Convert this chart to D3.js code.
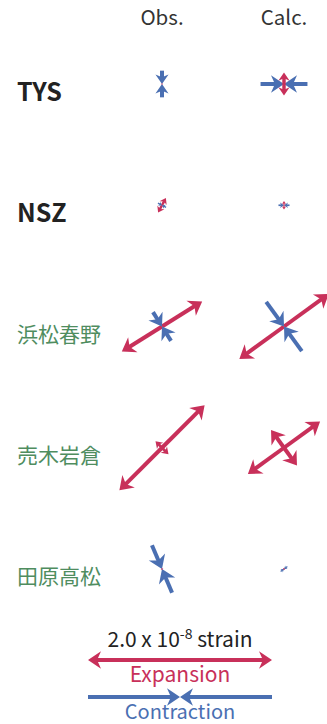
<!DOCTYPE html>
<html><head><meta charset="utf-8">
<script src="https://cdn.jsdelivr.net/npm/d3@7"></script>
<style>
html,body{margin:0;padding:0;background:#fff;}
svg{display:block;}
text{font-family:"Noto Sans CJK JP","Noto Sans",sans-serif;}
</style></head>
<body>
<svg id="chart" width="327" height="724"></svg>
<script>
// Stations (rows) and columns
const stations = ["TYS", "NSZ", "浜松春野", "売木岩倉", "田原高松"];
const stationKind = ["gnss", "gnss", "jp", "jp", "jp"];
const columns = ["Obs.", "Calc."];
// Principal strains in units of 1e-8 (positive = expansion), azimuth of e1 in degrees clockwise from north
const obsE1 = [0.02, 0.18, 1.03, 1.31, 0.03];
const obsE2 = [-0.29, -0.10, -0.37, 0.20, -0.56];
const obsAz = [90, 28, 58, 45, 67];
const calcE1 = [0.25, 0.09, 1.20, 0.97, 0.03];
const calcE2 = [-0.51, -0.12, -0.66, 0.48, -0.09];
const calcAz = [0, 0, 54, 54, 144];
// Legend
const legendStrain = 2.0;

const RED = "#c8305a", BLUE = "#4a6fb2", GREEN = "#4f8d5f";
const svg = d3.select("#chart");

const x = d3.scalePoint().domain(columns).range([162, 284]);
const y = d3.scalePoint().domain(stations).range([84, 569]);
// full arrow length per strain
const len = d3.scaleLinear().domain([0, 2.0]).range([0, 184]);

// headers
svg.selectAll("text.col").data(columns).join("text")
  .attr("class", "col")
  .attr("x", d => x(d)).attr("y", 25)
  .attr("text-anchor", "middle")
  .attr("font-size", 20.5).attr("fill", "#333")
  .text(d => d);

// row labels
svg.selectAll("text.row").data(stations).join("text")
  .attr("class", "row")
  .attr("x", 17)
  .attr("y", (d, i) => y(d) + (stationKind[i] === "gnss" ? 17 : 15))
  .attr("font-size", (d, i) => stationKind[i] === "gnss" ? 25 : 21)
  .attr("font-weight", (d, i) => stationKind[i] === "gnss" ? 700 : 400)
  .attr("fill", (d, i) => stationKind[i] === "gnss" ? "#222" : GREEN)
  .text(d => d);

// arrowhead path: tip at (0,0), pointing along +x
function headPath(h) {
  const w = h * 0.68, n = h * 0.3;
  return `M0,0 L${-h},${-w} L${-h + n},0 L${-h},${w} Z`;
}

// draw one principal axis (two arrows) at cx,cy
function drawAxis(g, cx, cy, e, az) {
  const half = len(Math.abs(e)) / 2;
  const rad = az * Math.PI / 180;
  const ux = Math.sin(rad), uy = -Math.cos(rad);
  const color = e >= 0 ? RED : BLUE;
  const h = Math.min(13, half * 0.72);
  const sw = Math.max(1.2, Math.min(4, half * 0.3));
  [1, -1].forEach(s => {
    const ex = cx + s * ux * half, ey = cy + s * uy * half;
    const ang = Math.atan2(s * uy, s * ux) * 180 / Math.PI;
    if (e >= 0) {
      g.append("line")
        .attr("x1", cx).attr("y1", cy)
        .attr("x2", cx + s * ux * (half - h * 0.6)).attr("y2", cy + s * uy * (half - h * 0.6))
        .attr("stroke", color).attr("stroke-width", sw);
      g.append("path").attr("d", headPath(h))
        .attr("transform", `translate(${ex},${ey}) rotate(${ang})`)
        .attr("fill", color);
    } else {
      g.append("line")
        .attr("x1", ex).attr("y1", ey)
        .attr("x2", cx + s * ux * h * 0.6).attr("y2", cy + s * uy * h * 0.6)
        .attr("stroke", color).attr("stroke-width", sw);
      g.append("path").attr("d", headPath(h))
        .attr("transform", `translate(${cx},${cy}) rotate(${ang + 180})`)
        .attr("fill", color);
    }
  });
}

const g = svg.append("g");
stations.forEach((st, i) => {
  const cy = y(st);
  const oPairs = [[obsE1[i], obsAz[i]], [obsE2[i], obsAz[i] + 90]]
    .sort((a, b) => Math.abs(b[0]) - Math.abs(a[0]));
  oPairs.forEach(p => drawAxis(g, x("Obs."), cy, p[0], p[1]));
  const cPairs = [[calcE1[i], calcAz[i]], [calcE2[i], calcAz[i] + 90]]
    .sort((a, b) => Math.abs(b[0]) - Math.abs(a[0]));
  cPairs.forEach(p => drawAxis(g, x("Calc."), cy, p[0], p[1]));
});

// legend
const lx = 180;
const lt = svg.append("text").attr("x", lx).attr("y", 647)
  .attr("text-anchor", "middle").attr("font-size", 21).attr("fill", "#222");
lt.append("tspan").text(legendStrain.toFixed(1) + " x 10");
lt.append("tspan").attr("dy", -8).attr("font-size", 14).text("-8");
lt.append("tspan").attr("dy", 8).text(" strain");

const lg = svg.append("g");
drawAxis(lg, lx, 660, legendStrain, 90);
drawAxis(lg, lx, 697, -legendStrain, 90);
svg.append("text").attr("x", lx).attr("y", 682).attr("text-anchor", "middle")
  .attr("font-size", 21).attr("fill", RED).text("Expansion");
svg.append("text").attr("x", lx).attr("y", 718.5).attr("text-anchor", "middle")
  .attr("font-size", 20).attr("fill", BLUE).text("Contraction");
</script>
</body></html>
